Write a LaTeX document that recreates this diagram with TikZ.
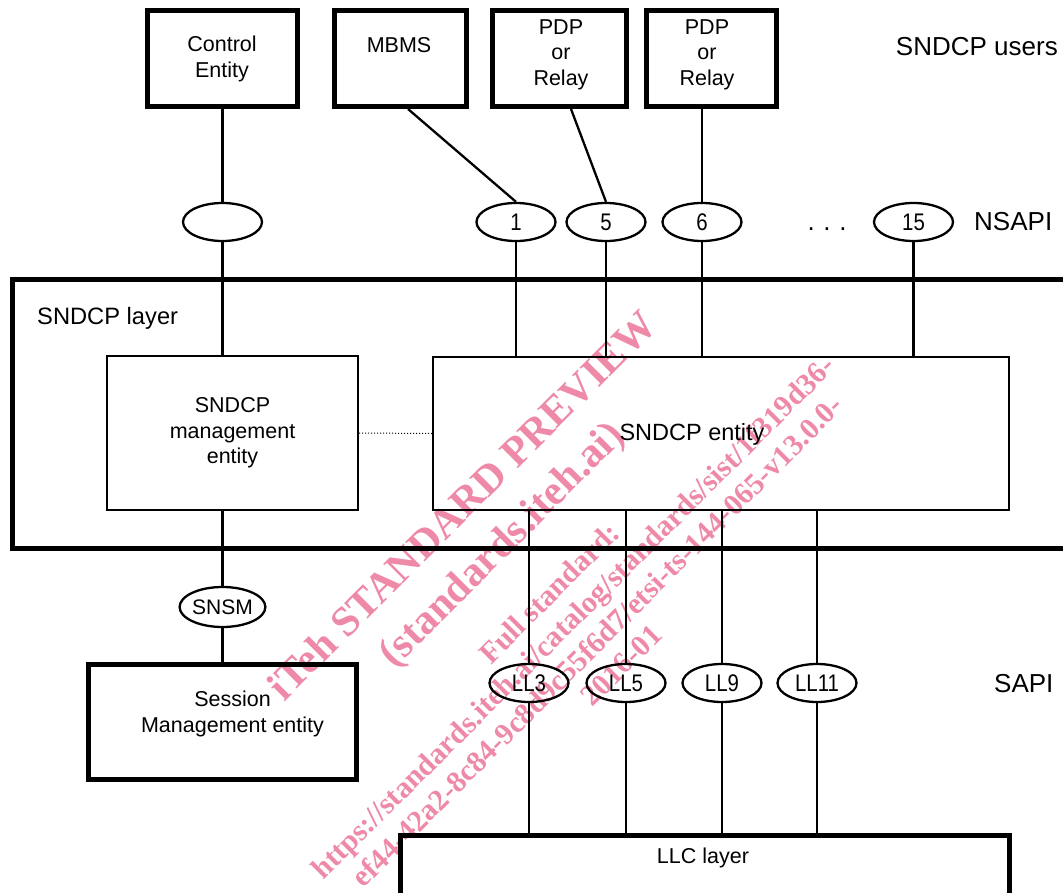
\documentclass[tikz,border=0pt]{standalone}
\usepackage{fontspec}
\usepackage{graphicx}
\setmainfont{Liberation Sans}
\newfontfamily\wmfont{Liberation Serif}
\usetikzlibrary{shapes.geometric}
\definecolor{wmpink}{RGB}{238,138,168}
\newcommand{\narrowtxt}[1]{\scalebox{0.85}[1]{#1}}
\begin{document}
\begin{tikzpicture}[x=1pt,y=-1pt,
  thickbox/.style={draw,line width=5pt,inner sep=0pt},
  thinbox/.style={draw,line width=2.3pt,inner sep=0pt},
  sap/.style={draw,ellipse,line width=2.3pt,minimum width=79pt,minimum height=38pt,inner sep=0pt,font=\fontsize{24}{26}\selectfont},
  conn/.style={line width=2.3pt},
  txt/.style={font=\fontsize{21.5}{25.5}\selectfont,align=center,inner sep=0pt},
  lbl/.style={font=\fontsize{26}{30}\selectfont,inner sep=0pt},
  wmbig/.style={text=wmpink,font=\wmfont\bfseries\fontsize{42}{54.5}\selectfont,rotate=45,align=center,inner sep=0pt},
  wmsmall/.style={text=wmpink,font=\wmfont\bfseries\fontsize{30}{34}\selectfont,rotate=45,align=center,inner sep=0pt},
]
\useasboundingbox (0,0) rectangle (1063,893);
\clip (0,0) rectangle (1063,893);
\fill[white] (0,0) rectangle (1063,893);

% watermark
\node[wmbig] (wm1) at (484,527) {iTeh STANDARD PREVIEW\\(standards.iteh.ai)};
\node[wmsmall] (wm2) at (585,629) {Full standard:\\https://standards.iteh.ai/catalog/standards/sist/1f319d36-\\ef44-42a2-8c84-9c8d9c55f6d7/etsi-ts-144-065-v13.0.0-\\2016-01};

% SNDCP users
\node[thickbox,minimum width=150pt,minimum height=96pt] (ctrl) at (222,58.5) {};
\node[txt] (ctrlT) at (222,59) {Control\\Entity};
\node[thickbox,minimum width=132pt,minimum height=96pt] (mbms) at (400,58.5) {};
\node[txt] (mbmsT) at (399,45) {MBMS};
\node[thickbox,minimum width=134pt,minimum height=96pt] (pdpa) at (559,58.5) {};
\node[txt] (pdpaT) at (561,54.5) {PDP\\or\\Relay};
\node[thickbox,minimum width=130pt,minimum height=96pt] (pdpb) at (711,58.5) {};
\node[txt] (pdpbT) at (707,54.5) {PDP\\or\\Relay};
\node[lbl,anchor=base east] (users) at (1058,56) {SNDCP users};

% NSAPI
\node[sap] (e0) at (222.5,222) {};
\node[sap] (e1) at (516,222) {\narrowtxt{1}};
\node[sap] (e5) at (606,222) {\narrowtxt{5}};
\node[sap] (e6) at (702,222) {\narrowtxt{6}};
\node[lbl,anchor=base] (dots) at (827,231) {.\,\,.\,\,.};
\node[sap] (e15) at (913.5,222) {\narrowtxt{15}};
\node[lbl,anchor=base west] (nsapi) at (974,231) {NSAPI};

% SNDCP layer
\node[thickbox,minimum width=1068pt,minimum height=269pt] (layer) at (546,414) {};
\node[lbl,font=\fontsize{23.7}{28}\selectfont,anchor=base west] (layerT) at (37,324.3) {SNDCP layer};
\node[thinbox,txt,minimum width=251pt,minimum height=154pt] (mgmt) at (232.5,433) {SNDCP\\management\\entity};
\node[thinbox,minimum width=576pt,minimum height=153pt] (ent) at (721,433.5) {};
\node[txt,font=\fontsize{23.5}{26}\selectfont] (entT) at (692,434) {SNDCP entity};

% SNSM and session management
\node[sap,font=\fontsize{21}{24}\selectfont,minimum height=40pt] (snsm) at (222.5,607) {SNSM};
\node[thickbox,minimum width=268pt,minimum height=115pt] (sess) at (222.5,722) {};
\node[txt] (sessT) at (232.5,714) {Session\\Management entity};

% SAPI
\node[sap] (l3) at (529,683) {\narrowtxt{LL3}};
\node[sap] (l5) at (626,683) {\narrowtxt{LL5}};
\node[sap] (l9) at (722,683) {\narrowtxt{LL9}};
\node[sap] (l11) at (817,683) {\narrowtxt{LL11}};
\node[lbl,anchor=base west] (sapi) at (994,692) {SAPI};

% LLC layer
\node[thickbox,minimum width=609pt,minimum height=70pt] (llc) at (704.5,870) {};
\node[txt] (llcT) at (703,858) {LLC layer};

% connectors
\draw[conn] (ctrl.south -| e0) -- (e0.north);
\draw[conn] (e0.south) -- (e0.south |- mgmt.north);
\draw[conn] ([xshift=8pt]mbms.south) -- (e1.north);
\draw[conn] ([xshift=12pt]pdpa.south) -- (e5.north);
\draw[conn] (pdpb.south -| e6) -- (e6.north);
\foreach \e in {e1,e5,e6,e15} \draw[conn] (\e.south) -- (\e.south |- ent.north);
\draw[line width=1pt,dotted] (mgmt.east) -- (ent.west);
\draw[conn] (mgmt.south -| snsm) -- (snsm.north);
\draw[conn] (snsm.south) -- (snsm.south |- sess.north);
\foreach \l in {l3,l5,l9,l11} {
  \draw[conn] (ent.south -| \l) -- (\l.north);
  \draw[conn] (\l.south) -- (\l.south |- llc.north);
}
\end{tikzpicture}
\end{document}
